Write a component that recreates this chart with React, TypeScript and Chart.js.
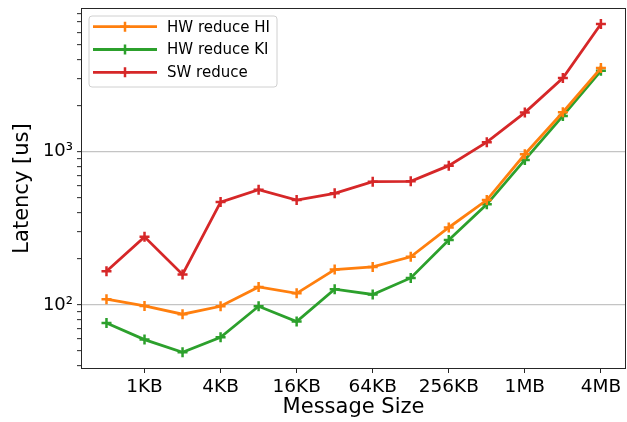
import React, { useEffect, useRef } from 'react';
import { Chart, registerables } from 'chart.js';

Chart.register(...registerables);

// ---- data ----
const categories = ['512B', '1KB', '2KB', '4KB', '8KB', '16KB', '32KB', '64KB', '128KB', '256KB', '512KB', '1MB', '2MB', '4MB'];
const hwReduceHI = [109, 98.5, 87, 98, 131, 119, 170, 177, 206, 320, 483, 961, 1808, 3508];
const hwReduceKI = [76.3, 59.4, 49.1, 61.5, 98, 77.9, 126.7, 117, 150, 265, 453, 883, 1711, 3368];
const swReduce = [166, 278, 158, 469, 564, 483, 535, 637, 640, 810, 1152, 1798, 3020, 6800];
const seriesNames = ['HW reduce HI', 'HW reduce KI', 'SW reduce'];
const seriesColors = ['#ff7f0e', '#2ca02c', '#d62728'];
const xTickIndices = [1, 3, 5, 7, 9, 11, 13];
const yMajorTicks = [100, 1000];
const yMajorLabels = ['10²', '10³'];
const yMin = 38.2;
const yMax = 8650;

const FONT = '"DejaVu Sans", sans-serif';

function isNice(v: number) {
  const e = Math.floor(Math.log10(v) + 1e-9);
  const s = v / Math.pow(10, e);
  return Math.abs(s - Math.round(s)) < 1e-6;
}

const framePlugin = {
  id: 'frame',
  afterDatasetsDraw(chart: any) {
    const { left, top, right, bottom } = chart.chartArea;
    const ctx = chart.ctx;
    ctx.save();
    ctx.strokeStyle = '#262626';
    ctx.lineWidth = 1;
    ctx.strokeRect(left + 0.5, top + 0.5, right - left - 1, bottom - top - 1);
    ctx.restore();
  },
};

const legendPlugin = {
  id: 'boxLegend',
  afterDraw(chart: any) {
    const ctx = chart.ctx;
    const { left, top } = chart.chartArea;
    const x = left + 8;
    const y = top + 8;
    const w = 188;
    const h = 71;
    const r = 3;
    ctx.save();
    ctx.beginPath();
    ctx.moveTo(x + r, y);
    ctx.lineTo(x + w - r, y);
    ctx.arcTo(x + w, y, x + w, y + r, r);
    ctx.lineTo(x + w, y + h - r);
    ctx.arcTo(x + w, y + h, x + w - r, y + h, r);
    ctx.lineTo(x + r, y + h);
    ctx.arcTo(x, y + h, x, y + h - r, r);
    ctx.lineTo(x, y + r);
    ctx.arcTo(x, y, x + r, y, r);
    ctx.closePath();
    ctx.fillStyle = 'rgba(255,255,255,0.8)';
    ctx.fill();
    ctx.strokeStyle = '#d0d0d0';
    ctx.lineWidth = 1;
    ctx.stroke();
    chart.data.datasets.forEach((ds: any, i: number) => {
      const cy = y + 10.7 + i * 22.8;
      ctx.strokeStyle = ds.borderColor;
      ctx.lineWidth = 2.8;
      ctx.beginPath();
      ctx.moveTo(x + 4, cy);
      ctx.lineTo(x + 68, cy);
      ctx.stroke();
      const mx = x + 36;
      ctx.lineWidth = 2.5;
      ctx.beginPath();
      ctx.moveTo(mx - 5, cy);
      ctx.lineTo(mx + 5, cy);
      ctx.moveTo(mx, cy - 5);
      ctx.lineTo(mx, cy + 5);
      ctx.stroke();
      ctx.fillStyle = '#000';
      ctx.font = `15px ${FONT}`;
      ctx.textAlign = 'left';
      ctx.textBaseline = 'middle';
      ctx.fillText(ds.label, x + 78, cy + 1);
    });
    ctx.restore();
  },
};

export default function App() {
  const ref = useRef<HTMLCanvasElement | null>(null);

  useEffect(() => {
    document.body.style.margin = '0';
    const seriesData = [hwReduceHI, hwReduceKI, swReduce];
    const chart = new Chart(ref.current as HTMLCanvasElement, {
      type: 'line',
      data: {
        datasets: seriesData.map((arr, k) => ({
          label: seriesNames[k],
          data: arr.map((v, i) => ({ x: i, y: v })),
          borderColor: seriesColors[k],
          backgroundColor: seriesColors[k],
          borderWidth: 2.8,
          pointStyle: 'cross',
          pointRadius: 5,
          pointBorderWidth: 2.5,
          pointHoverRadius: 5,
          tension: 0,
          fill: false,
        })),
      },
      options: {
        responsive: false,
        animation: false,
        events: [],
        layout: { autoPadding: false, padding: { left: 0, right: 1, top: 8, bottom: 0 } },
        plugins: {
          legend: { display: false },
          tooltip: { enabled: false },
        },
        scales: {
          x: {
            type: 'linear',
            min: -0.67,
            max: 13.66,
            afterBuildTicks: (scale: any) => {
              scale.ticks = xTickIndices.map((v) => ({ value: v }));
            },
            afterFit: (scale: any) => {
              scale.height = 53;
              scale.paddingLeft = 0;
              scale.paddingRight = 0;
              scale.paddingTop = 0;
              scale.paddingBottom = 0;
            },
            border: { display: false },
            grid: {
              drawOnChartArea: false,
              drawTicks: true,
              tickLength: 4,
              tickColor: '#262626',
              tickWidth: 1,
            },
            ticks: {
              autoSkip: false,
              maxRotation: 0,
              padding: 3,
              color: '#000',
              font: { family: FONT, size: 18.5 },
              callback: (v: any) => categories[Math.round(Number(v))] ?? '',
            },
            title: {
              display: true,
              text: 'Message Size',
              color: '#000',
              font: { family: FONT, size: 21 },
              padding: { top: 0, bottom: 2 },
            },
          },
          y: {
            type: 'logarithmic',
            min: yMin,
            max: yMax,
            afterBuildTicks: (scale: any) => {
              const t: any[] = [];
              for (let e = 1; e <= 3; e++) {
                for (let s = 1; s <= 9; s++) {
                  const v = s * Math.pow(10, e);
                  if (v >= yMin && v <= yMax) t.push({ value: v, major: yMajorTicks.includes(v) });
                }
              }
              scale.ticks = t;
            },
            afterFit: (scale: any) => {
              scale.width = 81;
              scale.paddingLeft = 0;
              scale.paddingRight = 0;
              scale.paddingTop = 0;
              scale.paddingBottom = 0;
            },
            border: { display: false },
            grid: {
              drawOnChartArea: true,
              drawTicks: true,
              tickLength: 4,
              color: (c: any) => (c.tick && yMajorTicks.includes(c.tick.value) ? '#c4c4c4' : 'rgba(0,0,0,0)'),
              lineWidth: 1.3,
              tickColor: (c: any) => (c.tick && isNice(c.tick.value) ? '#262626' : 'rgba(0,0,0,0)'),
              tickWidth: 1,
            },
            ticks: {
              autoSkip: false,
              padding: 4,
              color: '#000',
              font: { family: FONT, size: 18 },
              callback: (v: any) => {
                const idx = yMajorTicks.indexOf(Number(v));
                return idx >= 0 ? yMajorLabels[idx] : '';
              },
            },
            title: {
              display: true,
              text: 'Latency [us]',
              color: '#000',
              font: { family: FONT, size: 21 },
              padding: { top: 10, bottom: 0 },
            },
          },
        },
      },
      plugins: [framePlugin, legendPlugin],
    } as any);
    return () => chart.destroy();
  }, []);

  return <canvas ref={ref} width={627} height={422} style={{ display: 'block', width: 627, height: 422 }} />;
}
